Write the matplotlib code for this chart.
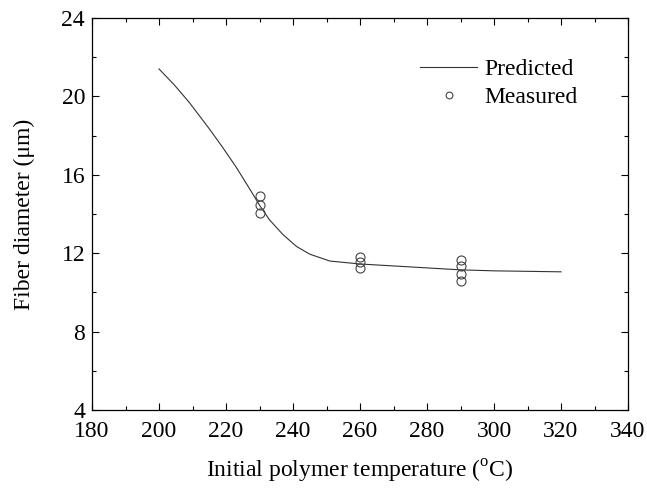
import numpy as np
import matplotlib
matplotlib.use("Agg")
import matplotlib.pyplot as plt
from matplotlib.ticker import MultipleLocator

plt.rcParams['font.family'] = ['Liberation Serif', 'DejaVu Serif']
plt.rcParams['mathtext.fontset'] = 'custom'
plt.rcParams['mathtext.rm'] = 'Liberation Serif'

# predicted curve
pred_T = [200, 204.5, 209, 215, 219, 223, 227, 230, 233, 237, 241, 245, 251, 260, 275, 290, 300, 320]
pred_D = [21.4, 20.6, 19.7, 18.35, 17.4, 16.4, 15.3, 14.45, 13.7, 12.95, 12.35, 11.95, 11.6, 11.45,
          11.3, 11.15, 11.1, 11.05]

# measured points
meas_T = [230, 230, 230, 260, 260, 260, 290, 290, 290, 290]
meas_D = [14.9, 14.45, 14.05, 11.8, 11.55, 11.25, 11.65, 11.35, 10.95, 10.6]

fig = plt.figure(figsize=(6.47, 4.91), dpi=100)
ax = fig.add_axes([92/647, 1-410/491, 536/647, 392/491])

ax.plot(pred_T, pred_D, color='#333333', lw=0.8, label='Predicted')
ax.plot(meas_T, meas_D, 'o', mfc='none', mec='#444444', mew=0.8, ms=6.5, label='Measured')

ax.set_xlim(180, 340)
ax.set_ylim(4, 24)
ax.xaxis.set_major_locator(MultipleLocator(20))
ax.xaxis.set_minor_locator(MultipleLocator(10))
ax.yaxis.set_major_locator(MultipleLocator(4))
ax.yaxis.set_minor_locator(MultipleLocator(2))
ax.tick_params(which='both', direction='in', top=True, right=True, labelsize=17, width=0.8)
ax.tick_params(which='major', length=5)
ax.tick_params(which='minor', length=3)
ax.tick_params(axis='x', pad=8)
ax.tick_params(axis='y', pad=5)
for s in ax.spines.values():
    s.set_linewidth(0.9)

ax.set_xlabel('Initial polymer temperature ($^{\\rm o}$C)', fontsize=17)
ax.set_ylabel('Fiber diameter (\u03bcm)', fontsize=17)
ax.xaxis.set_label_coords(0.5, -0.122)
ax.yaxis.set_label_coords(-0.106, 0.5)

ax.legend(loc='upper right', frameon=False, fontsize=17, handlelength=2.4,
          handletextpad=0.3, labelspacing=0.25, markerscale=0.75,
          bbox_to_anchor=(0.945, 0.95))

fig.savefig('out.png', dpi=100)
